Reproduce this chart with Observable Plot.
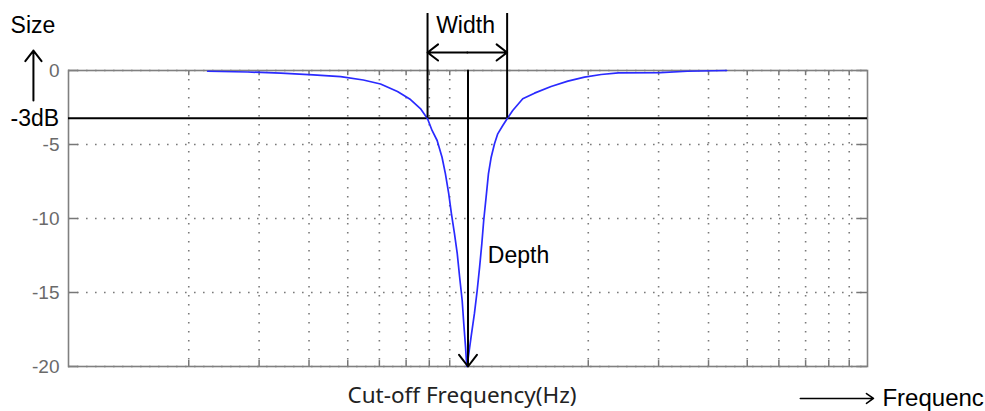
<!DOCTYPE html>
<html>
<head>
<meta charset="utf-8">
<script src="https://cdn.jsdelivr.net/npm/d3@7"></script>
<script src="https://cdn.jsdelivr.net/npm/@observablehq/plot@0.6"></script>
<style>
  html, body { margin: 0; padding: 0; background: #fff; }
</style>
</head>
<body>
<div id="chart"></div>
<script>
// Frequency response of the notch filter
const freq = [2.23, 2.81, 3.40, 4.10, 4.80, 5.47, 6.04, 6.66, 7.18, 7.60, 7.92, 8.13, 8.37, 8.61, 8.78, 8.95, 9.09, 9.25, 9.40, 9.53, 9.67, 9.76, 9.86, 9.93, 9.99, 10.18, 10.38, 10.54, 10.69, 10.83, 10.95, 11.10, 11.25, 11.43, 11.65, 11.87, 12.22, 12.53, 12.94, 13.71, 14.67, 16.14, 17.78, 19.57, 21.54, 23.8, 30.3, 35.4, 44.4];
const sizeDb = [-0.05, -0.1, -0.18, -0.29, -0.41, -0.64, -0.91, -1.42, -1.96, -2.57, -3.26, -4.05, -4.73, -5.86, -6.98, -8.33, -9.68, -11.03, -12.38, -13.97, -15.54, -17.11, -18.7, -20, -19.6, -18.0, -16.4, -14.9, -13.3, -11.7, -10.1, -8.56, -6.98, -5.86, -4.95, -4.28, -3.72, -3.26, -2.70, -1.91, -1.53, -1.08, -0.72, -0.45, -0.27, -0.16, -0.15, -0.05, 0];

// Grid / tick values
const xGrid = [2, 3, 4, 5, 6, 7, 8, 9, 10, 20, 30, 40, 50, 60, 70, 80, 90];
const yTicks = [0, -5, -10, -15, -20];

// Key levels
const cutLevel = -3.22;          // -3dB line
const lowCut = 7.92, highCut = 12.53, centerFreq = 10;
const depthDb = -20;

const curve = freq.map((f, i) => ({f, db: sizeDb[i]}));

const gray = "#7a7a7a";
const latin = "Liberation Sans, Arial, sans-serif";

const chart = Plot.plot({
  width: 985,
  height: 411,
  marginLeft: 68,
  marginRight: 118,
  marginTop: 70,
  marginBottom: 45,
  style: {fontFamily: latin, fontSize: "19px", background: "#fff", overflow: "visible"},
  x: {type: "log", domain: [1, 100], axis: null},
  y: {domain: [-20, 0], axis: null},
  marks: [
    // dotted grid
    Plot.ruleX(xGrid, {stroke: gray, strokeWidth: 1.6, strokeDasharray: "1.6,7.4"}),
    Plot.ruleY(yTicks, {stroke: gray, strokeWidth: 1.6, strokeDasharray: "1.6,7.4"}),
    // inner ticks at bottom/top
    Plot.ruleX(xGrid, {y1: -20, y2: -19.6, stroke: "#777", strokeWidth: 1.5}),
    Plot.ruleX(xGrid, {y1: 0, y2: -0.35, stroke: "#777", strokeWidth: 1.5}),
    // inner ticks left/right
    Plot.ruleY(yTicks, {x1: 1, x2: 1.06, stroke: "#777", strokeWidth: 1.5}),
    Plot.ruleY(yTicks, {x1: 94, x2: 100, stroke: "#777", strokeWidth: 1.5}),
    Plot.frame({stroke: "#808080", strokeWidth: 1.6}),
    Plot.axisY(yTicks, {tickSize: 0, tickPadding: 9, fontSize: 19, color: "#6a6a6a", label: null, tickFormat: d => String(d)}),
    // -3dB line
    Plot.ruleY([cutLevel], {stroke: "#000", strokeWidth: 2}),
    // response curve
    Plot.line(curve, {x: "f", y: "db", stroke: "#2a2aff", strokeWidth: 1.7}),
    // width markers
    Plot.ruleX([lowCut, highCut], {y1: cutLevel, y2: 3.85, stroke: "#000", strokeWidth: 2}),
    Plot.arrow([{x1: Math.sqrt(lowCut * highCut), x2: lowCut}, {x1: Math.sqrt(lowCut * highCut), x2: highCut}], {
      x1: "x1", x2: "x2", y1: () => 1.22, y2: () => 1.22,
      stroke: "#000", strokeWidth: 2, headLength: 11, headAngle: 75
    }),
    // depth arrow
    Plot.arrow([{x1: centerFreq, x2: centerFreq, y1: 0, y2: depthDb}], {
      x1: "x1", x2: "x2", y1: "y1", y2: "y2",
      stroke: "#000", strokeWidth: 2, headLength: 11, headAngle: 75
    }),
    // up arrow near "Size"
    Plot.arrow([{x1: 0.817, x2: 0.817, y1: -2.03, y2: 1.35}], {
      x1: "x1", x2: "x2", y1: "y1", y2: "y2",
      stroke: "#000", strokeWidth: 2, headLength: 10, headAngle: 75
    }),
    // frequency arrow at the bottom right
    Plot.arrow([{x1: 67.9, x2: 103.5, y1: -22.16, y2: -22.16}], {
      x1: "x1", x2: "x2", y1: "y1", y2: "y2",
      stroke: "#000", strokeWidth: 1.6, headLength: 8, headAngle: 70
    }),
    // annotation texts
    Plot.text([{f: 0.716, db: 3.0, t: "Size"}], {x: "f", y: "db", text: "t", textAnchor: "start", fontSize: 23, fill: "#000"}),
    Plot.text([{f: 0.716, db: cutLevel, t: "-3dB"}], {x: "f", y: "db", text: "t", textAnchor: "start", fontSize: 23, fill: "#000"}),
    Plot.text([{f: 9.86, db: 3.05, t: "Width"}], {x: "f", y: "db", text: "t", textAnchor: "middle", fontSize: 23, fill: "#000"}),
    Plot.text([{f: 11.19, db: -12.5, t: "Depth"}], {x: "f", y: "db", text: "t", textAnchor: "middle", fontSize: 23, fill: "#000", dx: 31}),
    Plot.text([{f: 9.66, db: -21.95, t: "Cut-off Frequency(Hz)"}], {x: "f", y: "db", text: "t", textAnchor: "middle", fontSize: 22.5, fontFamily: "Noto Sans", fill: "#222"}),
    Plot.text([{f: 109, db: -22.16, t: "Frequenc"}], {x: "f", y: "db", text: "t", textAnchor: "start", fontSize: 24, fill: "#000"})
  ]
});
document.getElementById("chart").appendChild(chart);
</script>
</body>
</html>
